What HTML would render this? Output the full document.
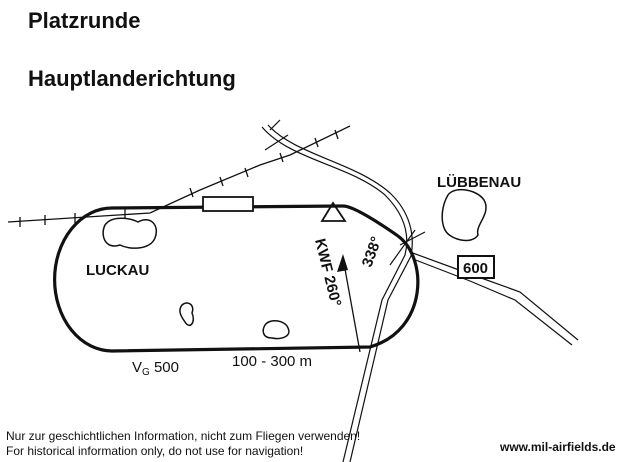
<!DOCTYPE html><html><head><style>body{margin:0;background:#fff}svg{display:block}text{font-family:"Liberation Sans",sans-serif}</style></head><body>
<svg width="642" height="462" viewBox="0 0 642 462">
<rect width="642" height="462" fill="#fff"/>
<text x="28" y="28" font-size="22" font-weight="bold" fill="#111">Platzrunde</text>
<text x="28" y="86" font-size="22" font-weight="bold" fill="#111">Hauptlanderichtung</text>
<g fill="none" stroke="#111">
<path d="M112,208 L343,206 Q355,206 398,236 C428,258 428,330 370,347 L112,351 A57,71 0 0 1 112,208 Z" stroke-width="3.2"/>
<path d="M8,222 L150,213 L200,190 L260,165 L290,155 L350,126" stroke-width="1.3"/>
<path d="M20,217v10M45,215v10M75,213v10M125,209v10M190,188l3,9M220,177l3,9M245,168l3,9M280,153l3,9M315,138l3,9M335,130l3,9" stroke-width="1.3"/>
<path d="M262,127 C290,160 350,165 385,195 C405,215 410,235 405,255 L382,300 L343,462" stroke-width="1.2"/>
<path d="M268,125 C295,155 355,162 390,193 C410,212 415,235 411,256 L388,300 L350,462" stroke-width="1.2"/>
<path d="M410,252 L470,274 L520,292 L578,340" stroke-width="1.2"/>
<path d="M413,259 L470,281 L515,300 L572,345" stroke-width="1.2"/>
<path d="M265,150 L288,135 M270,130l10,-10 M390,265 L415,230 M400,245 L425,232" stroke-width="1.2"/>
<rect x="203" y="197" width="50" height="14" fill="#fff" stroke-width="1.8"/>
<path d="M333,203 L322,221 L345,221 Z" stroke-width="1.8"/>
<path d="M360,352 L343,258" stroke-width="1.3"/>
<path d="M343,254 L337,272 L348,270 Z" fill="#111" stroke="none"/>
<path d="M105,225 C112,215 130,218 138,222 C150,215 160,225 155,238 C150,250 130,250 120,245 C105,250 100,235 105,225 Z" stroke-width="1.5"/>
<path d="M448,195 C455,185 480,190 485,202 C490,215 475,225 478,235 C472,245 450,240 445,230 C440,220 442,205 448,195 Z" stroke-width="1.5"/>
<path d="M265,325 C270,318 285,320 288,328 C292,336 282,340 272,338 C262,338 262,330 265,325 Z" stroke-width="1.5"/>
<path d="M182,305 C188,300 195,305 192,313 C196,322 190,330 185,322 C180,315 178,310 182,305 Z" stroke-width="1.5"/>
</g>
<text x="315" y="240" font-size="15" font-weight="bold" transform="rotate(76 315 240)" fill="#111">KWF 260°</text>
<text x="371" y="268" font-size="15" font-weight="bold" transform="rotate(-70 371 268)" fill="#111">338°</text>
<text x="86" y="275" font-size="15" font-weight="bold" fill="#111">LUCKAU</text>
<text x="437" y="187" font-size="15" font-weight="bold" fill="#111">LÜBBENAU</text>
<rect x="458" y="256" width="36" height="22" fill="#fff" stroke="#111" stroke-width="2"/>
<text x="463" y="273" font-size="15" font-weight="bold" fill="#111">600</text>
<text x="132" y="372" font-size="15" fill="#111">V<tspan font-size="10" dy="3">G</tspan><tspan dy="-3"> 500</tspan></text>
<text x="232" y="366" font-size="15" fill="#111">100 - 300 m</text>
<text x="6" y="440" font-size="12" fill="#111">Nur zur geschichtlichen Information, nicht zum Fliegen verwenden!</text>
<text x="6" y="455" font-size="12" fill="#111">For historical information only, do not use for navigation!</text>
<text x="500" y="451" font-size="12" font-weight="bold" fill="#111">www.mil-airfields.de</text>
</svg></body></html>
